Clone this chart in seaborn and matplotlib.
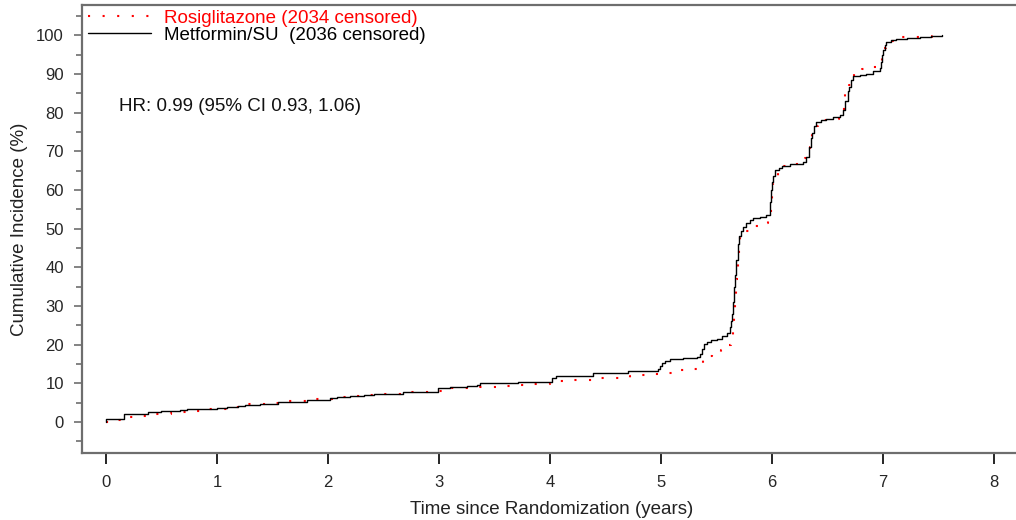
import matplotlib
matplotlib.use("Agg")
import matplotlib.pyplot as plt
from matplotlib.ticker import MultipleLocator
import seaborn as sns

# cumulative incidence curves (years, %)
met_years = [0.0, 0.001, 0.165, 0.29, 0.38, 0.50, 0.67, 0.73, 0.89, 1.00, 1.09, 1.19, 1.25,
             1.39, 1.49, 1.55, 1.81, 2.02, 2.08, 2.20, 2.32, 2.41, 2.68, 2.99, 3.10, 3.25,
             3.34, 3.37, 3.61, 3.71, 4.02, 4.05, 4.39, 4.70, 4.97, 4.99, 5.01, 5.04, 5.08,
             5.14, 5.20, 5.32, 5.35, 5.37, 5.39, 5.41, 5.45, 5.50, 5.55, 5.59, 5.62, 5.63,
             5.64, 5.65, 5.66, 5.67, 5.68, 5.69, 5.70, 5.72, 5.74, 5.77, 5.80, 5.83, 5.89,
             5.95, 5.98, 5.99, 6.00, 6.01, 6.03, 6.06, 6.09, 6.16, 6.28, 6.31, 6.33, 6.35,
             6.36, 6.38, 6.40, 6.44, 6.49, 6.55, 6.61, 6.64, 6.66, 6.68, 6.69, 6.71, 6.73,
             6.79, 6.85, 6.91, 6.97, 6.98, 6.99, 7.00, 7.02, 7.03, 7.07, 7.12, 7.22, 7.33,
             7.43, 7.53]
met_pct = [0.0, 0.8, 2.0, 2.2, 2.5, 2.8, 3.0, 3.3, 3.4, 3.7, 4.0, 4.1, 4.4,
           4.6, 4.8, 5.2, 5.7, 6.3, 6.5, 6.8, 7.0, 7.2, 7.8, 8.7, 9.1, 9.4,
           9.7, 10.0, 10.2, 10.4, 11.3, 12.0, 12.6, 13.3, 13.8, 14.5, 15.2, 15.8, 16.2,
           16.4, 16.6, 16.9, 17.5, 19.0, 20.2, 20.7, 21.1, 21.6, 22.2, 22.9, 24.6, 26.0,
           28.0, 31.0, 35.0, 38.0, 42.0, 46.0, 48.0, 49.5, 50.4, 51.5, 52.2, 52.7, 53.1,
           53.5, 57.0, 60.0, 62.0, 63.5, 65.1, 65.8, 66.2, 66.8, 67.1, 68.6, 71.0, 73.5,
           74.6, 76.5, 77.6, 78.0, 78.4, 78.8, 79.3, 80.6, 83.0, 85.5, 86.6, 88.5, 89.4,
           89.8, 90.1, 90.7, 91.4, 93.0, 94.8, 96.1, 97.5, 98.3, 98.8, 99.1, 99.4, 99.6,
           99.8, 100.0]

rosi_years = [0.0, 0.09, 0.18, 0.28, 0.38, 0.48, 0.59, 0.69, 0.79, 0.88, 0.99, 1.09, 1.28,
              1.39, 1.49, 1.60, 1.80, 2.11, 2.21, 2.32, 2.42, 2.74, 2.95, 3.04, 3.14, 3.37,
              3.58, 3.69, 3.79, 4.00, 4.09, 4.20, 4.30, 4.41, 4.72, 4.83, 4.93, 5.02, 5.11,
              5.21, 5.32, 5.34, 5.36, 5.38, 5.46, 5.54, 5.60, 5.63, 5.645, 5.66, 5.67, 5.68,
              5.69, 5.70, 5.71, 5.76, 5.82, 5.89, 5.96, 5.985, 5.99, 5.997, 6.01, 6.03, 6.05,
              6.07, 6.10, 6.19, 6.28, 6.30, 6.32, 6.34, 6.36, 6.38, 6.41, 6.44, 6.49, 6.60,
              6.63, 6.65, 6.66, 6.69, 6.71, 6.74, 6.81, 6.91, 6.97, 6.99, 7.01, 7.03, 7.12,
              7.33, 7.44, 7.50]
rosi_pct = [0.0, 0.5, 1.4, 1.6, 2.0, 2.2, 2.4, 2.5, 2.9, 3.3, 3.4, 4.0, 4.6,
            4.7, 5.0, 5.4, 5.9, 6.5, 6.8, 7.0, 7.2, 7.8, 8.1, 8.8, 8.9, 9.1,
            9.3, 9.6, 9.8, 10.2, 10.6, 10.8, 11.0, 11.4, 12.0, 12.1, 12.3, 12.8, 13.4,
            13.7, 13.9, 14.5, 15.3, 17.1, 17.9, 18.6, 19.9, 21.6, 23.8, 28.1, 32.0, 37.1,
            41.0, 45.0, 47.9, 49.4, 50.6, 51.5, 52.4, 54.2, 56.3, 60.5, 61.8, 62.8, 64.5,
            65.5, 66.3, 66.7, 67.1, 68.2, 69.3, 71.1, 74.9, 76.5, 77.5, 78.0, 78.4, 79.0,
            80.5, 82.8, 85.0, 87.1, 89.0, 90.6, 91.2, 91.9, 93.0, 94.5, 96.7, 98.6, 99.5,
            99.6, 99.8, 100.0]

rosi_label = "Rosiglitazone (2034 censored)"
met_label = "Metformin/SU  (2036 censored)"
hr_text = "HR: 0.99 (95% CI 0.93, 1.06)"

sns.set_theme(style="white")
plt.rcParams["font.family"] = ["Liberation Sans", "DejaVu Sans"]

fig = plt.figure(figsize=(10.16, 5.2), dpi=100)
ax = fig.add_axes([0.0807, 0.1288, 0.925, 0.8615])

sns.lineplot(x=rosi_years, y=rosi_pct, ax=ax, estimator=None, sort=False,
             drawstyle="steps-post", color="red", linewidth=1.5,
             linestyle=(0, (1, 6)), label=rosi_label)
sns.lineplot(x=met_years, y=met_pct, ax=ax, estimator=None, sort=False,
             drawstyle="steps-post", color="black", linewidth=1.0,
             label=met_label)

ax.set_xlim(-0.216, 8.25)
ax.set_ylim(-8.0, 107.8)
ax.set_xticks(range(0, 9))
ax.yaxis.set_major_locator(MultipleLocator(10))
ax.yaxis.set_minor_locator(MultipleLocator(5))
ax.set_yticks(range(0, 101, 10))

for side in ["left", "bottom", "top"]:
    ax.spines[side].set_color("#6e6e6e")
    ax.spines[side].set_linewidth(1.6)
ax.spines["right"].set_visible(False)

ax.tick_params(axis="y", which="major", length=6, width=1.2, color="#6e6e6e",
               labelsize=12, pad=7, left=True)
ax.tick_params(axis="y", which="minor", length=4, width=1.2, color="#6e6e6e", left=True)
ax.tick_params(axis="x", which="major", length=8, width=1.2, color="black",
               labelsize=12, pad=8, bottom=True)

ax.set_xlabel("Time since Randomization (years)", fontsize=13.5, color="#222222", labelpad=8)
ax.set_ylabel("Cumulative Incidence (%)", fontsize=13.5, color="#222222", labelpad=6)

ax.text(0.12, 81.7, hr_text, fontsize=13.5, color="#111111", va="center", ha="left")

leg = ax.legend(loc="upper left", bbox_to_anchor=(0.0, 1.002), frameon=False,
                fontsize=13.5, handlelength=3.4, handletextpad=0.65,
                labelspacing=-0.02, borderaxespad=0.0, borderpad=0.3)
for txt, col in zip(leg.get_texts(), ["red", "black"]):
    txt.set_color(col)

fig.savefig("out.png", dpi=100)
